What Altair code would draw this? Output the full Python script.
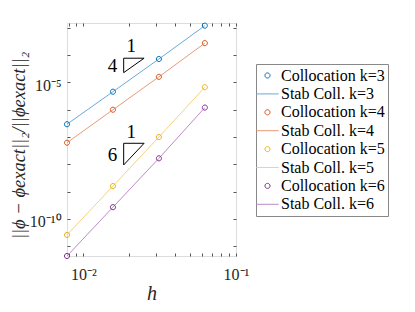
import altair as alt
import pandas as pd

# ---- data ----
h = [1/128, 1/64, 1/32, 1/16]
orders = [3, 4, 5, 6]
err_k3 = [2.95e-7, 4.57e-6, 7.2e-5, 1.2e-3]
err_k4 = [6.2e-8, 1.0e-6, 1.6e-5, 2.75e-4]
err_k5 = [2.6e-11, 1.6e-9, 1.0e-7, 6.7e-6]
err_k6 = [4.4e-12, 2.7e-10, 1.66e-8, 1.2e-6]

series_names = ["Collocation k=3", "Stab Coll. k=3",
                "Collocation k=4", "Stab Coll. k=4",
                "Collocation k=5", "Stab Coll. k=5",
                "Collocation k=6", "Stab Coll. k=6"]
series_colors = ["#0072BD", "#6AAAD8",
                 "#D95319", "#EA9A78",
                 "#EDB120", "#F5D27E",
                 "#7E2F8E", "#BC8BC6"]
CIRCLE = "M-0.32,0A0.32,0.32,0,1,1,0.32,0A0.32,0.32,0,1,1,-0.32,0Z"
LINE = "M-1.4,0L1.4,0"
series_shapes = [CIRCLE, LINE] * 4

# slope triangles (vertices: top-left, top-right, bottom-left, back to top-left)
tri_id = [1, 1, 1, 1, 2, 2, 2, 2]
tri_order = [0, 1, 2, 3, 0, 1, 2, 3]
tri_x = [0.01837, 0.0250, 0.01837, 0.01837, 0.01837, 0.0250, 0.01837, 0.01837]
tri_y = [7.7e-5, 7.7e-5, 2.28e-5, 7.7e-5, 5.9e-8, 5.9e-8, 9.5e-9, 5.9e-8]

ann_text = ["1", "4", "1", "6"]
ann_x = [0.0206, 0.0155, 0.0206, 0.0155]
ann_y = [2.23e-4, 3.9e-5, 1.58e-7, 2.15e-8]

x_ticks = [0.008, 0.009, 0.01, 0.02, 0.03, 0.04, 0.05, 0.06, 0.07, 0.08, 0.09, 0.1]
y_ticks = [1e-11, 1e-10, 1e-9, 1e-8, 1e-7, 1e-6, 1e-5, 1e-4, 1e-3]

# ---- tables ----
rows_p, rows_l = [], []
for k, errs in zip(orders, [err_k3, err_k4, err_k5, err_k6]):
    for hv, e in zip(h, errs):
        rows_p.append({"h": hv, "err": e, "series": f"Collocation k={k}"})
        rows_l.append({"h": hv, "err": e, "series": f"Stab Coll. k={k}"})
pts = pd.DataFrame(rows_p)
lns = pd.DataFrame(rows_l)
tri = pd.DataFrame({"id": tri_id, "o": tri_order, "h": tri_x, "err": tri_y})
ann = pd.DataFrame({"t": ann_text, "h": ann_x, "err": ann_y})

SERIF = "Liberation Serif"
xdom = [1/128, 0.1]
ydom = [4.4e-12, 1.5e-3]
xs = alt.Scale(type="log", domain=xdom, nice=False)
ys = alt.Scale(type="log", domain=ydom, nice=False)

x_label_expr = "datum.value == 0.01 ? '10⁻²' : (datum.value == 0.1 ? '10⁻¹' : '')"
y_label_expr = ("round(log(datum.value)/LN10) == -5 ? '10⁻⁵' : "
                "(round(log(datum.value)/LN10) == -10 ? '10⁻¹⁰' : '')")

x_axis = alt.Axis(values=x_ticks, labelExpr=x_label_expr, grid=False, domain=False,
                  offset=-3, tickSize=3, tickColor="#555", labelPadding=10,
                  labelFont=SERIF, labelFontSize=16, labelColor="#262626",
                  labelFlush=False, title="h", titleFont=SERIF, titleFontStyle="italic",
                  titleFontWeight="normal", titleFontSize=20, titleColor="#262626",
                  titleBaseline="alphabetic", titleY=46)
y_axis = alt.Axis(values=y_ticks, labelExpr=y_label_expr, grid=False, domain=False,
                  offset=-3, tickSize=3, tickColor="#555", labelPadding=6, labelOffset=3,
                  labelFont=SERIF, labelFontSize=16, labelColor="#262626",
                  title="||ϕ − ϕexact||₂/||ϕexact||₂", titleFont=SERIF,
                  titleFontStyle="italic", titleFontWeight="normal", titleFontSize=18.5,
                  titleColor="#262626", titleBaseline="middle", titleX=-52, titleY=122)

color = alt.Color("series:N", title=None,
                  scale=alt.Scale(domain=series_names, range=series_colors),
                  legend=alt.Legend(orient="none", legendX=189, legendY=41,
                                    labelFont=SERIF, labelFontSize=16, labelColor="#000",
                                    strokeColor="#888", fillColor="white", padding=3,
                                    symbolSize=256, symbolStrokeWidth=1, labelOffset=5,
                                    rowPadding=1.4))
shape = alt.Shape("series:N", title=None,
                  scale=alt.Scale(domain=series_names, range=series_shapes))

lines = alt.Chart(lns).mark_line(strokeWidth=1).encode(
    x=alt.X("h:Q", scale=xs, axis=x_axis),
    y=alt.Y("err:Q", scale=ys, axis=y_axis),
    color=color,
)
points = alt.Chart(pts).mark_point(filled=False, strokeWidth=1, opacity=1, size=256).encode(
    x=alt.X("h:Q", scale=xs),
    y=alt.Y("err:Q", scale=ys),
    color=color, shape=shape,
)
triangles = alt.Chart(tri).mark_line(color="black", strokeWidth=1).encode(
    x=alt.X("h:Q", scale=xs),
    y=alt.Y("err:Q", scale=ys),
    detail="id:N",
    order="o:Q",
)
labels = alt.Chart(ann).mark_text(font=SERIF, fontSize=19, color="black",
                                  align="center", baseline="middle").encode(
    x=alt.X("h:Q", scale=xs),
    y=alt.Y("err:Q", scale=ys),
    text="t:N",
)

main = alt.layer(lines, points, triangles, labels)

frame = alt.Chart(pts).mark_point(opacity=0).encode(
    x=alt.X("h:Q", scale=alt.Scale(type="log", domain=xdom, nice=False),
            axis=alt.Axis(orient="top", values=x_ticks, labels=False, grid=False,
                          domain=False, offset=-3, tickSize=3, tickColor="#555", title=None)),
    y=alt.Y("err:Q", scale=alt.Scale(type="log", domain=ydom, nice=False),
            axis=alt.Axis(orient="right", values=y_ticks, labels=False, grid=False,
                          domain=False, offset=-3, tickSize=3, tickColor="#555", title=None)),
)

chart = alt.layer(main, frame).resolve_scale(x="independent", y="independent").properties(
    width=169, height=233,
    autosize=alt.AutoSizeParams(type="none"),
    padding={"left": 59, "top": 15, "right": 170, "bottom": 48},
).configure_view(stroke="#888", strokeWidth=1).configure(background="white")

chart.save("out.html", embed_options={"renderer": "svg", "actions": False})
